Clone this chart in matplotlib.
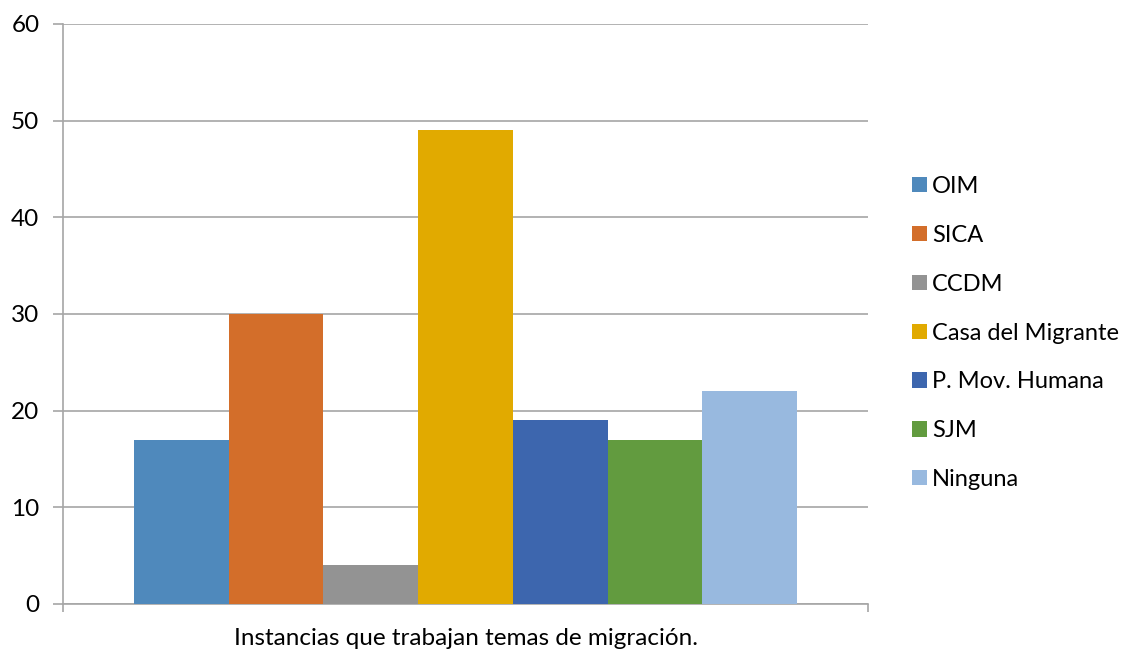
import matplotlib.pyplot as plt
from matplotlib.patches import Patch

plt.rcParams["font.family"] = ["Lato", "DejaVu Sans"]

series = ["OIM", "SICA", "CCDM", "Casa del Migrante", "P. Mov. Humana", "SJM", "Ninguna"]
values = [17, 30, 4, 49, 19, 17, 22]
colors = ["#4F89BC", "#D36E2A", "#939393", "#E1AA00", "#3D66AE", "#629B3F", "#98B9DF"]
yticks = [0, 10, 20, 30, 40, 50, 60]
xlabel = "Instancias que trabajan temas de migración."

fig = plt.figure(figsize=(11.3, 6.5), dpi=100)
ax = fig.add_axes([63 / 1130, 46 / 650, 805 / 1130, 580 / 650])

w = 0.8236 / len(series)
for i, (name, v, c) in enumerate(zip(series, values, colors)):
    ax.bar((i - 3) * w, v, width=w, color=c, label=name, zorder=3)

ax.set_xlim(-0.5, 0.5)
ax.set_ylim(0, 60)
ax.set_yticks(yticks)
ax.set_xticks([-0.5, 0.5])
ax.set_xticklabels(["", ""])
ax.tick_params(axis="y", length=7, width=1.2, color="#A6A6A6", labelsize=17.5, pad=10)
ax.tick_params(axis="x", length=6, width=1.2, color="#A6A6A6")
ax.grid(axis="y", color="#A6A6A6", linewidth=1.2, zorder=0)
for s in ["top", "right"]:
    ax.spines[s].set_visible(False)
for s in ["left", "bottom"]:
    ax.spines[s].set_color("#A6A6A6")
    ax.spines[s].set_linewidth(1.2)

# axis title sits right at the bottom edge, as in the original
fig.text(466 / 1130, 5 / 650, xlabel, fontsize=17.5, ha="center", va="baseline")

handles = [Patch(facecolor=c, label=n) for n, c in zip(series, colors)]
fig.legend(handles=handles, loc="center left", bbox_to_anchor=(903 / 1130, 317 / 650),
           frameon=False, fontsize=17, handlelength=0.62, handleheight=0.62,
           handletextpad=0.2, labelspacing=1.18, borderaxespad=0)

fig.savefig("out.png", dpi=100)
